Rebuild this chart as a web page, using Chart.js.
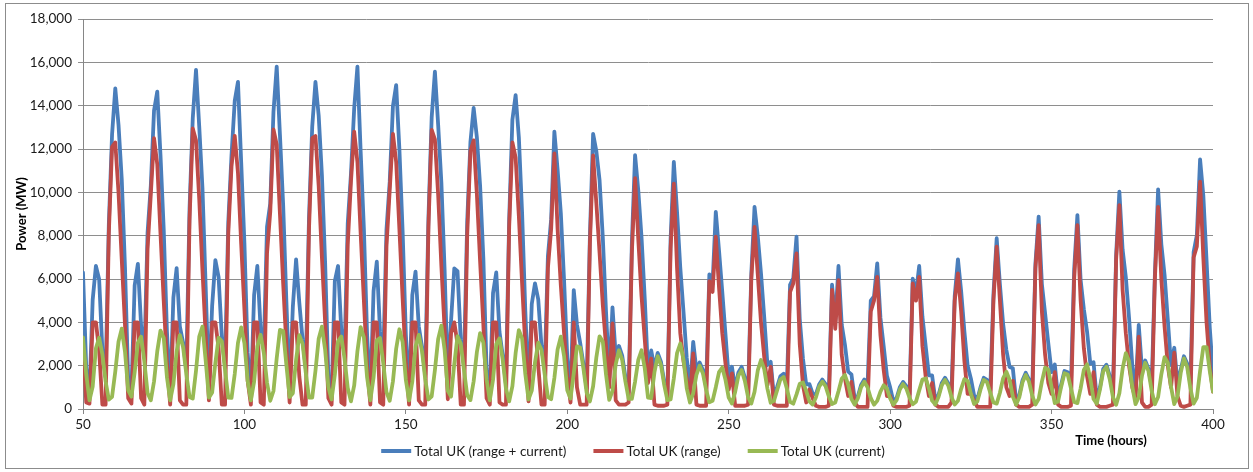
<!DOCTYPE html>
<html><head><meta charset="utf-8">
<script src="https://cdn.jsdelivr.net/npm/chart.js@4.4.1/dist/chart.umd.min.js"></script>
<style>html,body{margin:0;padding:0;background:#fff;}</style>
</head><body>
<canvas id="c" width="1253" height="472"></canvas>
<script>
// ---- Data (hourly, time in hours) ----
const hourStart = 50;
const hourEnd = 400;
const hours = [];
for (let h = hourStart; h <= hourEnd; h++) hours.push(h);

const xTickValues = [50, 100, 150, 200, 250, 300, 350, 400];
const yTickValues = [0, 2000, 4000, 6000, 8000, 10000, 12000, 14000, 16000, 18000];
const seriesNames = ["Total UK (range + current)", "Total UK (range)", "Total UK (current)"];
const xTitle = "Time (hours)";
const yTitle = "Power (MW)";

const rangePlusCurrent = [
6300,1900,650,5040,6600,5990,2720,1480,8530,12665,
14800,13110,10610,6560,1360,820,5700,6700,3840,2400,
8140,10300,13770,14650,11720,8290,3570,600,5150,6500,
3810,3060,1820,9255,13430,15650,13040,10200,5630,925,
4760,6870,6090,3330,2000,8630,11710,14220,15100,11370,
7640,2600,600,5260,6600,3720,2790,8410,9480,13730,
15800,12650,9400,4930,855,4730,6910,4910,3220,1880,
8825,13030,15100,13540,10800,6730,1500,640,5900,6600,
3645,2530,8570,10850,13885,15800,11880,8310,3400,600,
5450,6800,3580,2320,8280,10480,13980,14950,11980,8190,
3440,600,5260,6340,3820,2875,1570,8840,13465,15570,
13120,10450,6440,1285,4070,6490,6360,3225,2010,8640,
12310,13900,12530,10300,6965,1865,600,5350,6300,3560,
2470,1150,8750,13355,14490,12540,9060,4515,790,4845,
5800,5060,2930,1800,7055,8750,12800,11045,9040,5950,
2360,780,5490,3890,3040,2070,950,7950,12700,11900,
10555,7920,4490,1420,4690,2460,2910,2465,1470,770,
7670,11720,10070,7910,5080,1730,2700,1900,2590,2190,
1280,610,7840,11410,9085,6520,4480,2355,800,3100,
1775,2150,1800,1035,6210,5775,9100,7305,5415,3445,
1425,1950,935,1690,1945,1450,750,6250,9330,7980,
6260,4240,2030,2180,575,1020,1515,1630,1100,5730,
6045,7950,4160,2320,1135,1150,705,680,1125,1360,
1150,735,5735,4000,6600,3895,2965,1725,1600,500,
590,1105,1360,1105,5000,5200,6720,4205,2895,1540,
1000,350,510,1000,1250,1050,670,6020,5335,6600,
4255,2912,1555,1550,405,660,1200,1440,1180,850,
5205,6910,5430,3575,2000,1410,630,445,1005,1440,
1345,855,5300,7880,5750,3920,2720,1940,1880,400,
640,1330,1670,1370,825,6710,8880,5765,4410,3010,
1700,2050,545,1140,1755,1695,1110,6450,8950,5955,
4605,3560,2095,2160,445,1005,1850,2045,1535,755,
7100,10030,7360,6080,4205,2030,725,3880,1830,2235,
1860,1040,6220,10140,7600,6190,4130,2020,2825,1175,
1815,2435,2095,1160,7245,8020,11520,9860,6860,3755,
1600
];

const rangeOnly = [
3000,300,250,4000,4000,2700,200,200,8100,12100,
12300,10000,6900,3900,500,250,4000,4000,500,200,
7400,9900,12500,11300,8100,5000,2100,200,4000,4000,
400,200,200,8700,12950,12400,9700,6400,3400,400,
4000,4000,2800,200,200,8100,11200,12600,10900,7600,
4600,1300,200,4000,4000,300,200,7200,9100,12900,
12200,9000,5800,2900,300,4000,4000,1500,200,200,
8300,12500,12600,10300,7000,4000,500,200,4000,4000,
300,200,7600,10500,12800,11400,8100,5000,1950,200,
4000,4000,300,200,7500,10100,12700,11400,8300,5100,
2100,200,4000,4000,400,200,200,8400,12880,12450,
9900,6600,3700,450,3500,4000,3000,200,200,8000,
11900,12400,9900,6800,3900,500,200,4000,4000,300,
200,200,8400,12300,11600,8900,5800,2900,350,4000,
4000,2000,200,200,6500,8300,11800,8300,5700,3500,
1500,300,4000,1000,200,200,200,7600,11700,9500,
7200,4800,2900,1000,3950,400,200,200,200,300,
7200,10650,7800,5200,3200,1200,2330,200,150,150,
150,200,7400,10400,6500,3500,2200,1400,500,2570,
200,150,150,150,5900,5400,7950,5600,3500,2100,
900,1640,150,150,150,150,200,6000,8410,6200,
4000,2400,1100,1950,200,150,150,150,150,5400,
5800,7180,3000,1100,300,900,500,150,100,100,
100,150,5500,3700,5950,2500,1400,600,1250,300,
100,100,100,100,4500,5000,6100,3400,1800,600,
600,150,100,100,100,100,150,5800,5000,6100,
2900,1500,600,1200,200,100,100,100,100,300,
5000,6260,4500,2200,700,700,400,100,100,100,
100,100,5000,7490,5000,2500,1000,600,1300,200,
100,100,100,100,200,6500,8490,4500,2500,1200,
700,1700,200,100,100,100,150,6000,8490,5000,
2800,1500,700,1700,200,100,100,100,150,200,
6900,9410,5500,3500,2000,1000,500,3340,300,100,
100,200,6000,9330,6000,3800,2000,1000,2600,600,
150,100,150,200,7000,7500,10490,7000,4000,2000,
800
];

const currentOnly = [
3300,1600,400,1040,2800,3290,2520,1280,430,565,
1730,3110,3710,2660,860,570,1700,3050,3340,2200,
740,400,1270,2660,3620,3290,1470,400,1150,2660,
3410,2860,1620,555,480,1760,3340,3800,2230,525,
760,2130,3290,3130,1800,530,510,1620,3050,3770,
3040,1300,400,1260,2880,3420,2590,1210,380,830,
2350,3650,3600,2030,555,730,2270,3410,3020,1680,
525,530,1760,3240,3800,2730,1000,440,1580,3120,
3345,2330,970,350,1085,2670,3780,3310,1450,400,
1450,3160,3280,2120,780,380,1280,2780,3680,3090,
1340,400,1260,2880,3420,2675,1370,440,585,1800,
3220,3850,2740,835,570,2080,3360,3025,1810,640,
410,1280,2630,3500,3065,1365,400,1350,2990,3260,
2270,950,350,1055,2580,3640,3260,1615,440,845,
2160,3060,2730,1600,555,450,1430,2745,3340,2450,
860,480,1640,2890,2840,1870,750,350,1050,2380,
3355,3120,1590,420,835,2060,2710,2265,1270,470,
470,1265,2270,2710,1880,530,505,1700,2440,2040,
1130,410,440,1415,2585,3020,2280,955,300,725,
1575,2000,1650,885,310,375,1005,1705,1915,1345,
525,255,785,1540,1795,1300,550,250,800,1780,
2260,1840,930,290,375,870,1365,1480,950,330,
245,675,1160,1220,835,355,205,530,1025,1260,
1050,585,235,300,820,1395,1565,1125,465,200,
490,1005,1260,1005,500,200,375,805,1095,940,
485,200,410,900,1150,950,520,220,335,860,
1355,1412,955,385,205,560,1100,1340,1080,550,
205,380,930,1375,1300,710,230,345,905,1340,
1245,755,300,250,750,1420,1720,1340,580,200,
540,1230,1570,1270,625,210,460,1265,1910,1810,
1000,275,345,1040,1655,1595,960,325,270,955,
1805,2060,1395,460,245,905,1750,1945,1385,555,
200,730,1860,2580,2205,1030,225,540,1530,2135,
1760,840,220,550,1600,2390,2130,1020,225,575,
1665,2335,1945,960,245,520,1755,2860,2860,1755,
800
];

const seriesColors = ["#4A7EBB", "#BE4B48", "#98B954"];

// ---- Chart ----
const toPoints = arr => hours.map((h, i) => ({ x: h, y: arr[i] }));
const FONT = "Lato, 'Open Sans', sans-serif";

const decorPlugin = {
  id: 'decor',
  beforeDraw(chart) {
    const c = chart.ctx;
    c.save();
    c.fillStyle = '#ffffff';
    c.fillRect(0, 0, chart.width, chart.height);
    c.restore();
  },
  afterDraw(chart) {
    const c = chart.ctx;
    c.save();
    // outer chart border
    c.strokeStyle = '#8c8c8c';
    c.lineWidth = 1;
    c.strokeRect(5.5, 3.5, 1243, 465);
    // legend
    c.font = "13.5px " + FONT;
    c.textBaseline = 'middle';
    c.textAlign = 'left';
    const ds = chart.data.datasets;
    const lineW = 30, gap = 3, between = 27;
    const widths = ds.map(d => lineW + gap + c.measureText(d.label).width);
    const total = widths.reduce((a, b) => a + b, 0) + between * (ds.length - 1);
    let x = 633 - total / 2;
    const y = 451;
    ds.forEach((d, i) => {
      c.strokeStyle = d.borderColor;
      c.lineWidth = 4;
      c.beginPath();
      c.moveTo(x, y);
      c.lineTo(x + lineW, y);
      c.stroke();
      c.fillStyle = '#1a1a1a';
      c.fillText(d.label, x + lineW + gap, y + 1);
      x += widths[i] + between;
    });
    // x-axis title (placed right of legend, as in the original)
    c.font = "bold 13px " + FONT;
    c.textAlign = 'center';
    c.fillStyle = '#000';
    c.fillText(xTitle, 1111, 441);
    c.restore();
  }
};

new Chart(document.getElementById('c'), {
  type: 'line',
  data: {
    datasets: [
      { label: seriesNames[0], data: toPoints(rangePlusCurrent), borderColor: seriesColors[0], order: 3 },
      { label: seriesNames[1], data: toPoints(rangeOnly), borderColor: seriesColors[1], order: 2 },
      { label: seriesNames[2], data: toPoints(currentOnly), borderColor: seriesColors[2], order: 1 }
    ]
  },
  options: {
    responsive: false,
    animation: false,
    devicePixelRatio: 1,
    layout: { padding: { left: 0, right: 40, top: 19, bottom: 0 } },
    elements: {
      line: { borderWidth: 3.8, tension: 0, borderJoinStyle: 'round', borderCapStyle: 'round', fill: false },
      point: { radius: 0, hoverRadius: 0 }
    },
    plugins: { legend: { display: false }, tooltip: { enabled: false } },
    scales: {
      x: {
        type: 'linear',
        min: xTickValues[0],
        max: xTickValues[xTickValues.length - 1],
        afterFit: s => { s.height = 63; },
        afterBuildTicks: s => { s.ticks = xTickValues.map(v => ({ value: v })); },
        ticks: { padding: 3, color: '#1a1a1a', font: { family: FONT, size: 13.5 }, maxRotation: 0 },
        grid: { drawOnChartArea: false, drawTicks: true, tickLength: 5, color: '#868686' },
        border: { color: '#868686', width: 1 }
      },
      y: {
        min: yTickValues[0],
        max: yTickValues[yTickValues.length - 1],
        afterFit: s => { s.width = 83; },
        afterBuildTicks: s => { s.ticks = yTickValues.map(v => ({ value: v })); },
        ticks: {
          padding: 6, color: '#1a1a1a', font: { family: FONT, size: 13.5 },
          callback: v => Number(v).toLocaleString('en-US')
        },
        grid: { color: '#8e8e8e', lineWidth: 1, tickLength: 5 },
        border: { color: '#868686', width: 1 },
        title: { display: true, text: yTitle, color: '#000', font: { family: FONT, size: 13, weight: 'bold' }, padding: { top: 14, bottom: 0 } }
      }
    }
  },
  plugins: [decorPlugin]
});
</script>
</body></html>
